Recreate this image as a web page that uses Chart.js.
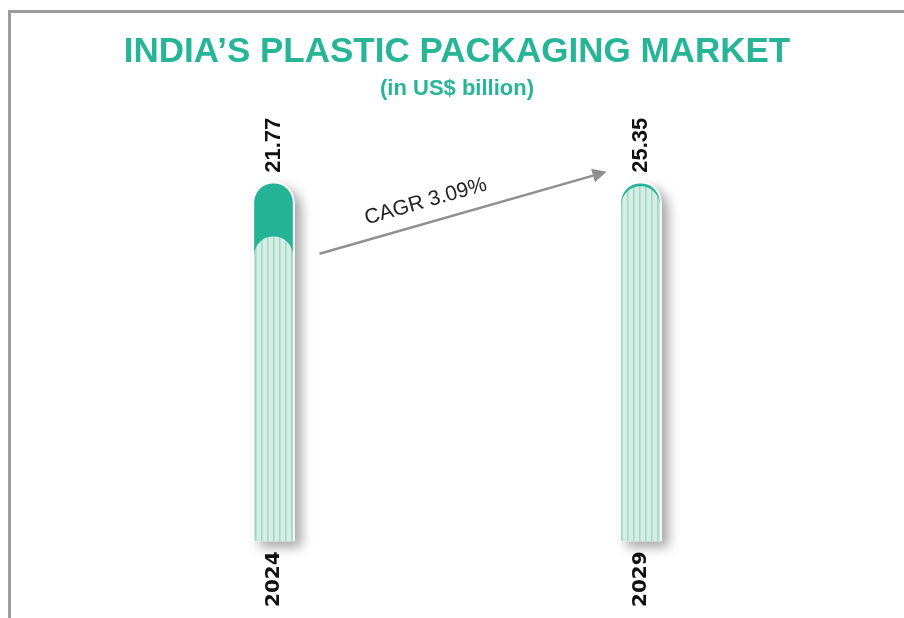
<!DOCTYPE html>
<html>
<head>
<meta charset="utf-8">
<script src="https://cdn.jsdelivr.net/npm/chart.js@4.4.1/dist/chart.umd.min.js"></script>
<style>
  html, body { margin: 0; padding: 0; background: #fff; }
  #wrap { position: relative; width: 904px; height: 618px; overflow: hidden; }
  #frame { position: absolute; left: 8px; top: 10px; right: -10px; bottom: -10px;
           border-top: 3px solid #9c9c9c; border-left: 3px solid #9c9c9c; }
  #chart { position: absolute; left: 0; top: 0; }
</style>
</head>
<body>
<div id="wrap">
  <div id="frame"></div>
  <canvas id="chart" width="904" height="618"></canvas>
</div>
<script>
  const years = ["2024", "2029"];
  const marketValues = [21.77, 25.35];
  const trackValues = [25.7, 25.7];   // full height of the capsule behind each bar
  const cagrLabel = "CAGR 3.09%";
  const titleText = "INDIA\u2019S PLASTIC PACKAGING MARKET";
  const subtitleText = "(in US$ billion)";

  const teal = "#24b396";
  const mint = "#d5ede5";
  const stripe = "#9fd8c4";
  const fontFamily = "'Liberation Sans', Arial, sans-serif";

  function makeStripes() {
    const c = document.createElement("canvas");
    c.width = 6; c.height = 10;
    const g = c.getContext("2d");
    g.fillStyle = mint;
    g.fillRect(0, 0, 6, 10);
    g.fillStyle = stripe;
    g.fillRect(3, 0, 1.5, 10);
    return g.createPattern(c, "repeat");
  }

  function capsulePath(ctx, left, top, w, bottom) {
    const r = w / 2;
    ctx.beginPath();
    ctx.moveTo(left, bottom);
    ctx.lineTo(left, top + r);
    ctx.arc(left + r, top + r, r, Math.PI, 0);
    ctx.lineTo(left + w, bottom);
    ctx.closePath();
  }

  // soft drop shadow behind the capsules, drawn outside the clip area
  const shadowPlugin = {
    id: "capsuleShadow",
    beforeDatasetsDraw(chart) {
      const ctx = chart.ctx;
      chart.getDatasetMeta(1).data.forEach(bar => {
        ctx.save();
        ctx.shadowColor = "rgba(0,0,0,0.35)";
        ctx.shadowBlur = 12;
        ctx.shadowOffsetX = 7;
        ctx.shadowOffsetY = 6;
        ctx.fillStyle = "#ffffff";
        capsulePath(ctx, bar.x - bar.width / 2, bar.y, bar.width, bar.base);
        ctx.fill();
        ctx.restore();
      });
    }
  };

  // value labels and CAGR arrow
  const annotPlugin = {
    id: "annotations",
    afterDatasetsDraw(chart) {
      const ctx = chart.ctx;
      const track = chart.getDatasetMeta(1).data;
      const fill = chart.getDatasetMeta(0).data;

      ctx.save();
      ctx.fillStyle = "#111";
      ctx.font = "bold 22px " + fontFamily;
      ctx.textAlign = "left";
      ctx.textBaseline = "middle";
      track.forEach((bar, i) => {
        ctx.save();
        ctx.translate(bar.x, bar.y - 9);
        ctx.rotate(-Math.PI / 2);
        ctx.fillText(marketValues[i].toFixed(2), 0, 0);
        ctx.restore();
      });

      const x0 = fill[0].x + 46, y0 = fill[0].y + 17;
      const x1 = track[1].x - 34, y1 = track[1].y - 10;
      const ang = Math.atan2(y1 - y0, x1 - x0);
      const head = 14;
      ctx.strokeStyle = "#8f8f8f";
      ctx.fillStyle = "#8f8f8f";
      ctx.lineWidth = 2.5;
      ctx.beginPath();
      ctx.moveTo(x0, y0);
      ctx.lineTo(x1 - head * Math.cos(ang), y1 - head * Math.sin(ang));
      ctx.stroke();
      ctx.beginPath();
      ctx.moveTo(x1, y1);
      ctx.lineTo(x1 - head * Math.cos(ang) + 7 * Math.sin(ang), y1 - head * Math.sin(ang) - 7 * Math.cos(ang));
      ctx.lineTo(x1 - head * Math.cos(ang) - 7 * Math.sin(ang), y1 - head * Math.sin(ang) + 7 * Math.cos(ang));
      ctx.closePath();
      ctx.fill();

      const t = 0.39;
      const mx = x0 + (x1 - x0) * t, my = y0 + (y1 - y0) * t;
      ctx.translate(mx + 21 * Math.sin(ang), my - 21 * Math.cos(ang));
      ctx.rotate(ang);
      ctx.fillStyle = "#222";
      ctx.font = "21px " + fontFamily;
      ctx.textAlign = "center";
      ctx.fillText(cagrLabel, 0, 0);
      ctx.restore();
    }
  };

  const ctx = document.getElementById("chart").getContext("2d");
  new Chart(ctx, {
    type: "bar",
    data: {
      labels: years,
      datasets: [
        {
          label: "Market size",
          data: marketValues,
          backgroundColor: makeStripes(),
          borderWidth: 0,
          barThickness: 38,
          borderRadius: { topLeft: 19, topRight: 19, bottomLeft: 0, bottomRight: 0 },
          borderSkipped: false,
          grouped: false
        },
        {
          label: "Track",
          data: trackValues,
          backgroundColor: teal,
          borderColor: "#ffffff",
          borderWidth: 2,
          barThickness: 42,
          borderRadius: { topLeft: 21, topRight: 21, bottomLeft: 0, bottomRight: 0 },
          borderSkipped: false,
          grouped: false
        }
      ]
    },
    options: {
      responsive: false,
      animation: false,
      layout: { padding: { left: 90, right: 80, top: 0, bottom: 1 } },
      plugins: {
        legend: { display: false },
        tooltip: { enabled: false },
        title: {
          display: true,
          text: titleText,
          color: "#26b597",
          font: { family: fontFamily, size: 35, weight: "bold" },
          padding: { top: 31, bottom: 3 }
        },
        subtitle: {
          display: true,
          text: subtitleText,
          color: "#26b597",
          font: { family: fontFamily, size: 22, weight: "bold" },
          padding: { top: 0, bottom: 8 }
        }
      },
      scales: {
        x: {
          grid: { display: false, drawTicks: false },
          border: { display: false },
          ticks: {
            color: "#111",
            font: { family: "'DejaVu Sans', sans-serif", size: 20, weight: "bold" },
            minRotation: 90,
            maxRotation: 90,
            padding: 10
          }
        },
        y: {
          display: false,
          min: 0,
          max: 30.8
        }
      }
    },
    plugins: [shadowPlugin, annotPlugin]
  });
</script>
</body>
</html>
